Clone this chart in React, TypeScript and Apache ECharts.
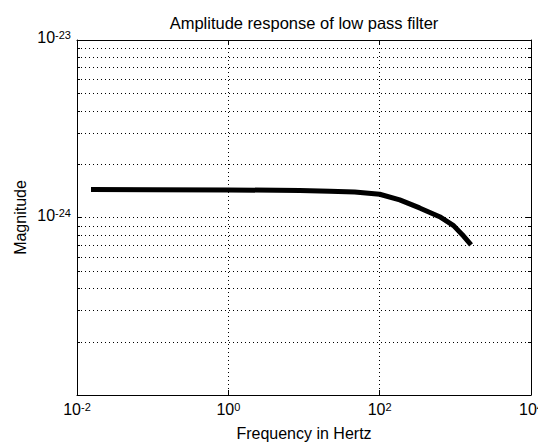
import React, { useEffect, useRef } from "react";
import * as echarts from "echarts";

const titleText = "Amplitude response of low pass filter";
const xName = "Frequency in Hertz";
const yName = "Magnitude";

// frequency (Hz) and magnitude
const freq = [0.0153, 0.1, 1, 8.8, 21.9, 46.8, 100, 184, 337, 620, 948, 1236, 1614];
const magnitude = [
  1.439e-24, 1.435e-24, 1.43e-24, 1.42e-24, 1.406e-24, 1.39e-24, 1.352e-24, 1.256e-24,
  1.132e-24, 1.01e-24, 0.9e-24, 0.8e-24, 0.7e-24,
];

// axis ranges
const xMin = 0.01;
const xMax = 10000;
const yMin = 1e-25;
const yMax = 1e-23;

// minor log grid values on the y axis
const yMinor = [
  2e-25, 3e-25, 4e-25, 5e-25, 6e-25, 7e-25, 8e-25, 9e-25,
  2e-24, 3e-24, 4e-24, 5e-24, 6e-24, 7e-24, 8e-24, 9e-24,
];

const FONT = "'Liberation Sans', Arial, sans-serif";

const supFormatter = (v: number) => {
  const e = Math.round(Math.log10(v));
  return `{b|10}{s|${e}}`;
};

const rich = {
  b: { fontSize: 16, fontFamily: FONT, color: "#000", verticalAlign: "bottom", lineHeight: 16 },
  s: { fontSize: 11, fontFamily: FONT, color: "#000", verticalAlign: "top", lineHeight: 11, padding: [0, 0, 10, 0] },
};

export default function App() {
  const ref = useRef<HTMLDivElement>(null);
  useEffect(() => {
    if (!ref.current) return;
    const chart = echarts.init(ref.current, null, { renderer: "svg" });
    const dotted = { color: "#000", width: 1, type: [1, 3] as number[] };
    const axisLine = { show: true, onZero: false, lineStyle: { color: "#000", width: 1 } };
    chart.setOption({
      animation: false,
      backgroundColor: "#fff",
      title: {
        text: titleText,
        left: 299,
        top: 9,
        textAlign: "center",
        textStyle: { fontFamily: FONT, fontSize: 16.5, fontWeight: "normal", color: "#000" },
      },
      grid: { left: 77, right: 7, top: 40, bottom: 51, containLabel: false, outerBoundsMode: "none" },
      xAxis: [
        {
          type: "log",
          min: xMin,
          max: xMax,
          interval: 2,
          position: "bottom",
          name: xName,
          nameLocation: "middle",
          nameGap: 30,
          nameMoveOverlap: false,
          nameTextStyle: { fontFamily: FONT, fontSize: 16, color: "#000" },
          axisLine,
          axisTick: { show: true, inside: true, length: 5, lineStyle: { color: "#000" } },
          axisLabel: { formatter: supFormatter, rich, margin: 6, showMaxLabel: true, showMinLabel: true, hideOverlap: false },
          splitLine: { show: true, lineStyle: dotted },
          minorTick: { show: false },
        },
        {
          type: "log",
          min: xMin,
          max: xMax,
          interval: 2,
          position: "top",
          axisLine,
          axisTick: { show: true, inside: true, length: 5, lineStyle: { color: "#000" } },
          axisLabel: { show: false },
          splitLine: { show: false },
        },
      ],
      yAxis: [
        {
          type: "log",
          min: yMin,
          max: yMax,
          interval: 1,
          position: "left",
          name: yName,
          nameLocation: "middle",
          nameGap: 49,
          nameMoveOverlap: false,
          nameTextStyle: { fontFamily: FONT, fontSize: 16, color: "#000" },
          axisLine,
          axisTick: { show: true, inside: true, length: 5, lineStyle: { color: "#000" } },
          axisLabel: { formatter: supFormatter, rich, margin: 6, padding: [0, 0, 5, 0] },
          splitLine: { show: true, lineStyle: dotted },
        },
        {
          type: "log",
          min: yMin,
          max: yMax,
          interval: 1,
          position: "right",
          axisLine,
          axisTick: { show: true, inside: true, length: 5, lineStyle: { color: "#000" } },
          axisLabel: { show: false },
          splitLine: { show: false },
        },
      ],
      series: [
        {
          type: "custom",
          xAxisIndex: 0,
          yAxisIndex: 0,
          silent: true,
          z: 1,
          data: yMinor.map((v) => [xMin, v]),
          renderItem: (params: any, api: any) => {
            const cs = params.coordSys;
            const p = api.coord([api.value(0), api.value(1)]);
            const y = Math.round(p[1]) + 0.5;
            const x1 = cs.x;
            const x2 = cs.x + cs.width;
            return {
              type: "group",
              children: [
                { type: "line", shape: { x1, y1: y, x2, y2: y }, style: { stroke: "#000", lineWidth: 1, lineDash: [1, 3] } },
                { type: "line", shape: { x1, y1: y, x2: x1 + 3, y2: y }, style: { stroke: "#000", lineWidth: 1 } },
                { type: "line", shape: { x1: x2 - 3, y1: y, x2, y2: y }, style: { stroke: "#000", lineWidth: 1 } },
              ],
            };
          },
        },
        {
          type: "line",
          xAxisIndex: 0,
          yAxisIndex: 0,
          z: 5,
          data: freq.map((f, i) => [f, magnitude[i]]),
          showSymbol: false,
          symbol: "none",
          lineStyle: { color: "#000", width: 5, cap: "butt", join: "round" },
        },
      ],
    });
    return () => chart.dispose();
  }, []);
  return (
    <div
      ref={ref}
      style={{ position: "fixed", left: 0, top: 0, width: 538, height: 446, background: "#fff" }}
    />
  );
}
